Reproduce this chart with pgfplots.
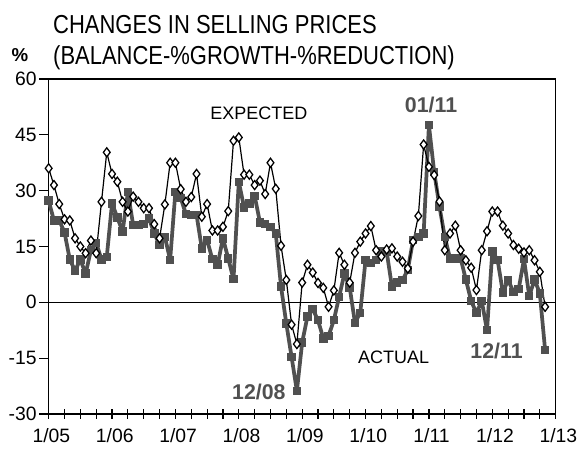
\documentclass[border=0pt]{standalone}
\usepackage{fontspec}
\setmainfont{Liberation Sans}
\newfontfamily\titlefont[FakeStretch=0.845]{Liberation Sans}
\usepackage{pgfplots}
\usepackage{pgfplotstable}
\pgfplotsset{compat=1.18}
\definecolor{act}{HTML}{505050}

\pgfplotstableread{
m v
0 27.3
1 22
2 22
3 18.8
4 11.5
5 8.5
6 11.5
7 7.7
8 14
9 16
10 11.5
11 12.2
12 26.6
13 22.8
14 19
15 29.6
16 20.8
17 20.8
18 21
19 22.5
20 18.5
21 15.4
22 17.6
23 11.4
24 29.7
25 28
26 23.7
27 23.5
28 23.5
29 14.5
30 16.7
31 11.6
32 10.2
33 17.2
34 11.8
35 6.2
36 32.4
37 25.5
38 26.6
39 28.6
40 21.5
41 21
42 20.3
43 18.5
44 4.2
45 -5.7
46 -14.7
47 -23.8
48 -10.8
49 -3.8
50 -1.8
51 -4.8
52 -9.7
53 -9
54 -4.8
55 1.5
56 7.7
57 4
58 -5.5
59 -2.8
60 11.4
61 10.5
62 11.4
63 13.6
64 13.6
65 4.2
66 5.3
67 6
68 8.7
69 16.7
70 17.6
71 18.5
72 47.6
73 35
74 25.7
75 17.6
76 11.8
77 11.8
78 11.8
79 6.1
80 0.4
81 -2.9
82 0.4
83 -7.5
84 13.6
85 11.4
86 2.7
87 6
88 2.8
89 3.6
90 11.6
91 1.7
92 6.1
93 2.4
94 -12.8
}\actual

\pgfplotstableread{
m v
0 36
1 31.5
2 26.4
3 22.3
4 22
5 17.2
6 15
7 13.2
8 16.6
9 13.2
10 27
11 40.3
12 34.5
13 32.4
14 27
15 24.4
16 28.4
17 27
18 25.3
19 25.3
20 21
21 17.2
22 26.3
23 37.5
24 37.5
25 30.4
26 27
27 28.3
28 34.5
29 23
30 26.4
31 19.3
32 19.3
33 20.3
34 24.5
35 43.4
36 44.3
37 34.3
38 34.3
39 31.5
40 32.7
41 29.1
42 37.5
43 30.5
44 15.2
45 6
46 -6
47 -11.2
48 5.3
49 10.1
50 8
51 5.2
52 3.9
53 -1.2
54 3.2
55 13.3
56 10.1
57 5.3
58 13.3
59 16.3
60 18.5
61 20.5
62 14
63 12.3
64 14.2
65 14.5
66 12.3
67 10.9
68 9.1
69 16.3
70 23.2
71 42.4
72 36.4
73 34.2
74 27.1
75 14
76 18.5
77 20.6
78 14
79 11.3
80 9.3
81 3.3
82 14
83 19.1
84 24.4
85 24.4
86 20.6
87 18.5
88 15.4
89 14.4
90 13.4
91 14
92 11.3
93 8.2
94 -1.2
}\expected

\begin{document}
\begin{tikzpicture}
\useasboundingbox (-36.5pt,-27pt) rectangle (396.25pt,310.5pt);
\begin{axis}[
 at={(0pt,0pt)}, anchor=south west, scale only axis,
 width=380.25pt, height=251.25pt,
 xmin=0, xmax=96, ymin=-30, ymax=60,
 clip=false,
 xtick={0,12,...,96},
 xticklabels={1/05,1/06,1/07,1/08,1/09,1/10,1/11,1/12,1/13},
 minor xtick={3,6,...,93},
 ytick={-30,-15,...,60},
 yticklabels={-30,-15,0,15,30,45,60},
 xtick pos=bottom, ytick pos=left,
 tick align=center,
 major tick length=7pt, minor tick length=7pt,
 y tick style={xshift=-3.5pt},
 tick style={black, line width=0.9pt},
 axis line style={line width=1.2pt},
 ticklabel style={font=\fontsize{14.5}{15}\selectfont},
 xticklabel style={yshift=-4pt, xshift=2pt},
 yticklabel style={xshift=-2pt},
]
\addplot[black, line width=0.9pt] coordinates {(0,0) (96,0)};
\addplot[act, line width=2.8pt, line join=round, mark=square*, mark size=2.8pt,
  mark options={fill=act, draw=act, line width=0pt}] table[x=m, y=v] {\actual};
\addplot[black, line width=0.9pt, mark=diamond*, mark size=3.4pt,
  mark options={fill=white, draw=black, line width=0.95pt}] table[x=m, y=v] {\expected};
\node[inner sep=0pt, font=\fontsize{13.5}{13.5}\selectfont] at (axis cs:39.8,50.9) {EXPECTED};
\node[inner sep=0pt, font=\fontsize{13.5}{13.5}\selectfont] at (axis cs:65.3,-14.7) {ACTUAL};
\node[inner sep=0pt, text=act, font=\bfseries\fontsize{16}{16}\selectfont] at (axis cs:39.8,-24.1) {12/08};
\node[inner sep=0pt, text=act, font=\bfseries\fontsize{16}{16}\selectfont] at (axis cs:72.4,53.1) {01/11};
\node[inner sep=0pt, text=act, font=\bfseries\fontsize{16}{16}\selectfont] at (axis cs:84.8,-13.1) {12/11};
\end{axis}
\node[anchor=base west, inner sep=0pt, font=\titlefont\fontsize{19.5}{19.5}\selectfont] at (3.2pt,285.5pt) {CHANGES IN SELLING PRICES};
\node[anchor=base west, inner sep=0pt, font=\titlefont\fontsize{19.5}{19.5}\selectfont] at (3.2pt,261.75pt) {(BALANCE-\%GROWTH-\%REDUCTION)};
\node[anchor=base, inner sep=0pt, font=\bfseries\fontsize{14}{14}\selectfont] at (-21.5pt,264.2pt) {\%};
\end{tikzpicture}
\end{document}
